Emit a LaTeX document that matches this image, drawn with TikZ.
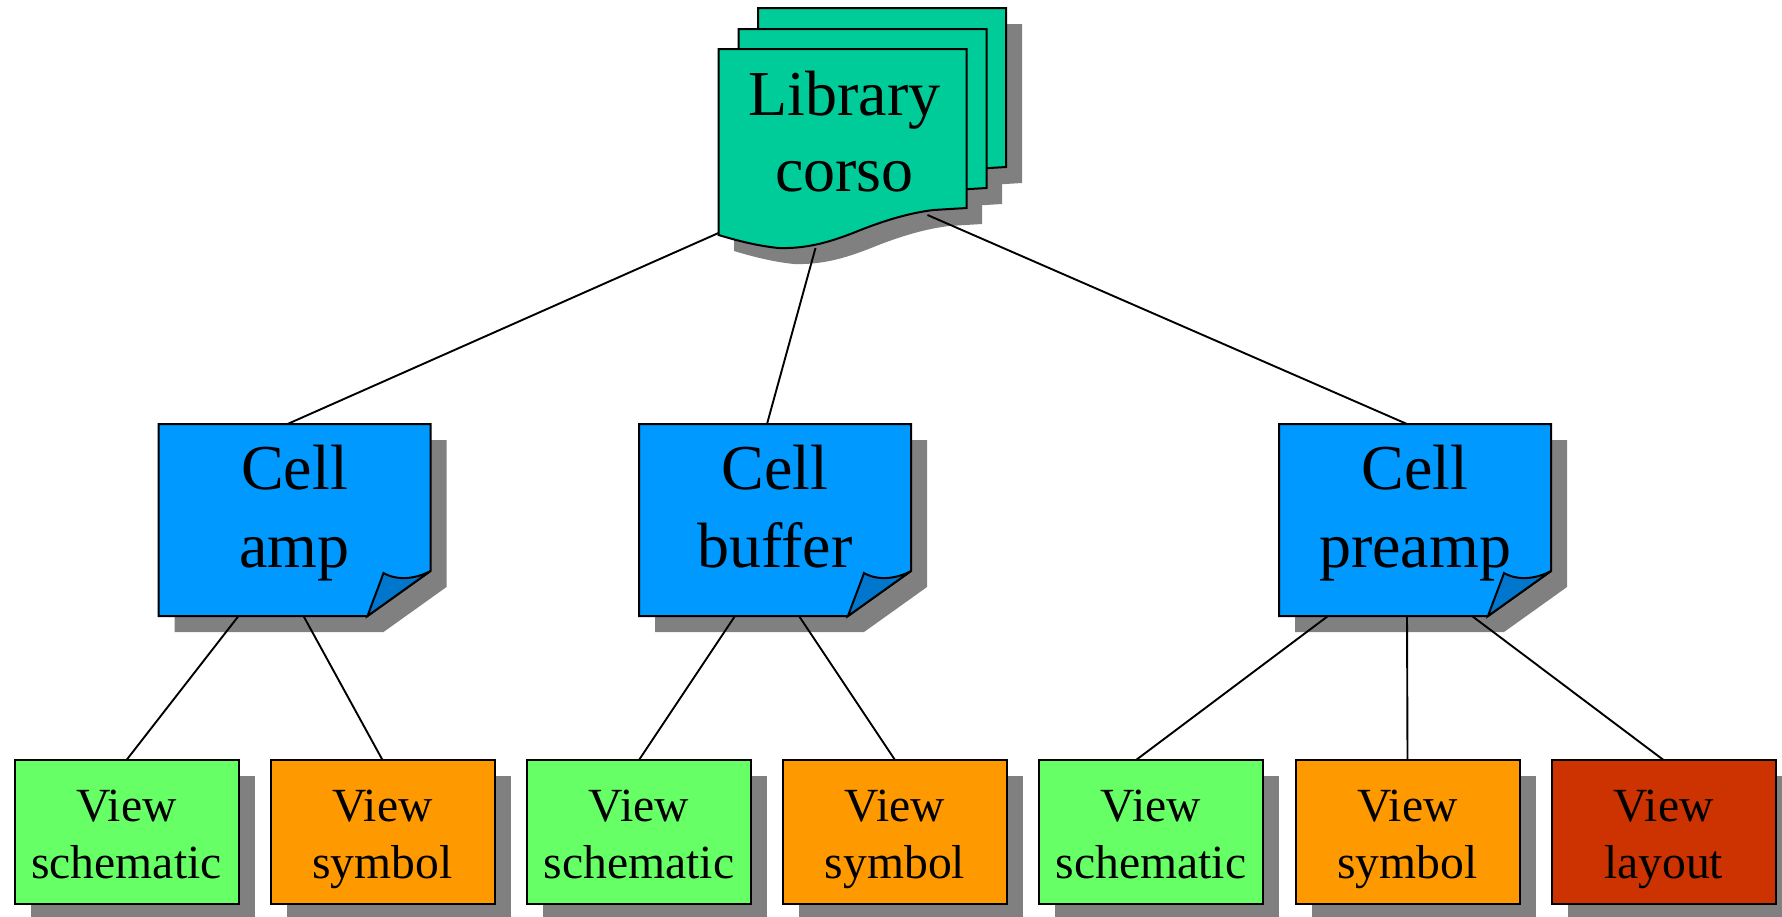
\documentclass[tikz,border=0pt]{standalone}
\usepackage{fontspec}
\setmainfont{Liberation Serif}
\usetikzlibrary{calc}
\definecolor{shadowgray}{HTML}{808080}
\definecolor{libcol}{HTML}{00CC99}
\definecolor{cellcol}{HTML}{0099FF}
\definecolor{foldcol}{HTML}{0077CC}
\definecolor{schcol}{HTML}{66FF66}
\definecolor{symcol}{HTML}{FF9900}
\definecolor{laycol}{HTML}{CC3300}
\tikzset{
  outline/.style={draw=black,line width=2pt,line join=miter},
  shadowfill/.style={fill=shadowgray,draw=none},
  edge/.style={draw=black,line width=1.9pt},
  libtext/.style={minimum width=248pt,minimum height=199pt,inner sep=0pt,outer sep=0pt,align=center,font=\fontsize{64}{76}\selectfont},
  celltext/.style={minimum width=272pt,minimum height=192pt,inner sep=0pt,outer sep=0pt,align=center,font=\fontsize{64}{78}\selectfont},
  viewtext/.style={minimum width=224pt,minimum height=144pt,inner sep=0pt,outer sep=0pt,align=center,font=\fontsize{47.6}{57}\selectfont},
}
\newcommand{\stacktext}[4]{\rule{0pt}{#1pt}#3\\#4\rule[-#2pt]{0pt}{#2pt}}
\newcommand{\sheetpath}{(0,0) -- (248,0) -- (248,159) -- (215,161) .. controls (190,164) and (165,172) .. (142,181) .. controls (115,192) and (90,200) .. (60,199) .. controls (40,197) and (20,192) .. (0,186) -- cycle}
\newcommand{\cellpath}{(0,0) -- (272,0) -- (272,147) -- (209,192) -- (0,192) -- cycle}
\newcommand{\cellbox}[4]{%
  \path[shadowfill,shift={(#2+16,#3+16)}] \cellpath;
  \begin{scope}[shift={(#2,#3)}]
    \path[outline,fill=cellcol] \cellpath;
    \path[outline,fill=foldcol] (209,192) .. controls (214,178) and (220,163) .. (225,149) .. controls (239,157) and (257,155) .. (272,147) -- cycle;
    \node[celltext] (#1) at (136,96) {\stacktext{61}{45}{Cell}{#4}};
  \end{scope}}
\newcommand{\viewbox}[5]{%
  \fill[shadowgray] (#2+16,#3+16) rectangle ++(224,144);
  \node[viewtext,outline,fill=#4,anchor=north west] (#1) at (#2,#3) {\stacktext{55}{20}{View}{#5}};}
\begin{document}
\begin{tikzpicture}[x=1pt,y=-1pt]
\useasboundingbox (0,0) rectangle (1782,916);
% library stack
\path[shadowfill,shift={(758+16,8+16)}] \sheetpath;
\path[shadowfill,shift={(738+16,29+16)}] \sheetpath;
\path[shadowfill,shift={(718+16,49+16)}] \sheetpath;
\path[outline,fill=libcol,shift={(758,8)}] \sheetpath;
\path[outline,fill=libcol,shift={(738.5,29)}] \sheetpath;
\path[outline,fill=libcol,shift={(718.5,49)}] \sheetpath;
\node[libtext] (lib) at (844.5,149) {\stacktext{59}{50}{Library}{corso}};
% cells
\cellbox{amp}{158.5}{424}{amp}
\cellbox{buffer}{639}{424}{buffer}
\cellbox{preamp}{1279}{424}{preamp}
% views
\viewbox{vA}{14.5}{760}{schcol}{schematic}
\viewbox{vB}{270.5}{760}{symcol}{symbol}
\viewbox{vC}{527}{760}{schcol}{schematic}
\viewbox{vD}{783}{760}{symcol}{symbol}
\viewbox{vE}{1039}{760}{schcol}{schematic}
\viewbox{vF}{1295.5}{760}{symcol}{symbol}
\viewbox{vG}{1551.5}{760}{laycol}{layout}
% connectors
\draw[edge] ($(lib.north west)+(-2,183.5)$) -- ($(amp.north west)+(129,0)$);
\draw[edge] ($(lib.north west)+(95,198.5)$) -- ($(buffer.north west)+(128,0)$);
\draw[edge] ($(lib.north west)+(207,165.5)$) -- ($(preamp.north west)+(128,0)$);
\draw[edge] ($(amp.south west)+(80,0)$) -- (vA.north);
\draw[edge] ($(amp.south west)+(145,0)$) -- (vB.north);
\draw[edge] ($(buffer.south west)+(96,0)$) -- (vC.north);
\draw[edge] ($(buffer.south west)+(160,0)$) -- (vD.north);
\draw[edge] ($(preamp.south west)+(49,0)$) -- ($(vE.north west)+(97,0)$);
\draw[edge] ($(preamp.south west)+(128,0)$) -- (vF.north);
\draw[edge] ($(preamp.south west)+(193,0)$) -- (vG.north);
\end{tikzpicture}
\end{document}
